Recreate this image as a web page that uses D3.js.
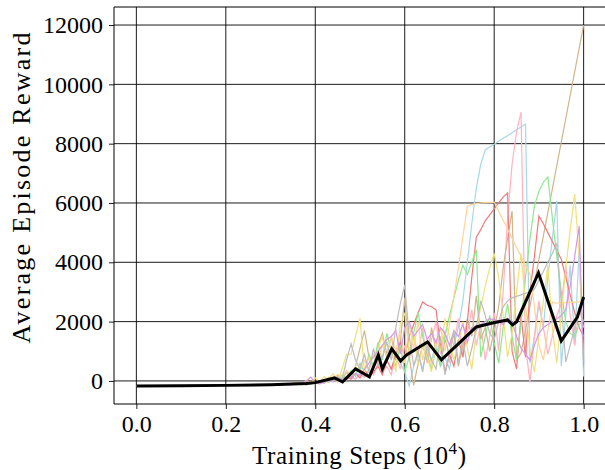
<!DOCTYPE html>
<html>
<head>
<meta charset="utf-8">
<script src="https://cdn.jsdelivr.net/npm/d3@7"></script>
<style>
    body { margin: 0; background: #fff; }
    svg { display: block; }
    text { font-family: "Liberation Serif", "DejaVu Serif", serif; fill: #000; }
</style>
</head>
<body>
<div id="chart"></div>
<script>
// Shared evaluation steps for the individual runs (in units of 10^4)
const steps = [0, 0.1, 0.2, 0.3,
    0.36, 0.37, 0.38, 0.39, 0.40, 0.41, 0.42, 0.43, 0.44, 0.45,
    0.46, 0.47, 0.48, 0.49, 0.50, 0.51, 0.52, 0.53, 0.54, 0.55,
    0.56, 0.57, 0.58, 0.59, 0.60, 0.61, 0.62, 0.63, 0.64, 0.65,
    0.66, 0.67, 0.68, 0.69, 0.70, 0.71, 0.72, 0.73, 0.74, 0.75,
    0.76, 0.77, 0.78, 0.79, 0.80, 0.81, 0.82, 0.83, 0.84, 0.85,
    0.86, 0.87, 0.88, 0.89, 0.90, 0.91, 0.92, 0.93, 0.94, 0.95,
    0.96, 0.97, 0.98, 0.99, 1.00];

// Individual runs (one value per step)
const runBlue = [-170, -160, -150, -130,
    -100, -80, -60, -50, -20, -30, 10, -10, 40, 20,
    -40, 60, 120, 80, 200, 150, 300, 250, 500, 350,
    700, 400, 900, 600, 300, -170, 500, 900, 400, 1100,
    700, 1300, 500, 800, 400, 1200, 1800, 2700, 4000, 5300,
    6500, 7300, 7790, 7890, 7980, 8080, 8180, 8270, 8370, 8470,
    8560, 8660, 600, 1500, 2600, 1800, 3500, 4800, 6070, 500,
    2200, 3900, 1200, 4500, 150];
const runPink = [-170, -165, -150, -135,
    -90, -120, -60, -100, -40, -80, 0, -50, 60, -20,
    100, 30, 150, 60, 250, 120, 400, 200, 600, 300,
    500, 200, 900, 400, 1200, 700, 1500, 900, 1800, 600,
    1400, 2000, 900, 1700, 600, 1300, 2100, 800, 1600, 2400,
    1200, 1900, 700, 1500, 2300, 1000, 3000, 5500, 7300, 8400,
    9060, 1200, -50, 1500, 2700, 1800, 900, 1500, 2200, 2600,
    3900, 2200, 1200, 2500, 1800];
const runTan = [-170, -160, -145, -130,
    -100, -60, -120, -40, -80, 0, -60, 100, -20, 200,
    50, 300, 100, 500, 1100, 1700, 800, 400, 1200, 1600,
    900, 1500, 700, 1300, 2800, 800, -150, 600, 1200, 700,
    1800, 1000, 500, 1400, 900, 1600, 500, 1200, 2100, 1500,
    2870, 1400, 1800, 1000, 1700, 2500, 3800, 4800, 5730, 700,
    940, 1730, 2520, 3310, 4100, 4890, 5680, 6470, 7260, 8050,
    8840, 9630, 10420, 11210, 12000];
const runRed = [-170, -160, -150, -140,
    -110, -80, -130, -60, -90, -20, -70, 50, 0, 80,
    -30, 150, 60, 250, 100, 400, 150, 300, 500, 200,
    700, 400, 900, 1300, 800, 1500, 1900, 2300, 2660, 2550,
    2500, 2400, 1200, 300, 900, 500, 1400, 800, 2000, 3500,
    4850, 5100, 5400, 5600, 5800, 6000, 6200, 6340, 1000, 400,
    2200, 800, 3000, 4200, 5560, 5300, 5000, 4700, 4400, 4100,
    3500, 2900, 2300, 1800, 1500];
const runGreen = [-170, -155, -150, -135,
    -100, -130, -70, -110, -50, -90, 20, -40, 100, 30,
    200, 80, 350, 150, 600, 300, 900, 500, 1300, 700,
    1600, 1000, 500, 1200, 300, 800, 1600, 2300, 1500, 900,
    400, 1100, 500, 1500, 2200, 2800, 3400, 3900, 3600, 4000,
    4420, 800, 1500, 2200, 1300, 600, 1800, 2600, 1500, 700,
    1900, 3500, 4800, 5900, 6400, 6700, 6880, 5500, 4200, 3000,
    2000, 1600, 1500, 1900, 2000];
const runPeach = [-170, -160, -150, -130,
    -90, -50, -110, -30, -80, 20, -40, 120, 40, 220,
    100, 350, 200, 500, 300, 700, 400, 900, 600, 1200,
    800, 1500, 1000, 1700, 600, 1900, 1100, 2000, 700, 1300,
    500, 1200, 1800, 1000, 1900, 2850, 3800, 4850, 5900, 5950,
    5980, 6000, 6010, 6020, 6030, 5730, 5420, 5120, 4810, 4500,
    4200, 3900, 3600, 2500, 1200, 700, 1700, 2660, 2620, 2620,
    2640, 2650, 2660, 2660, 2700];
const runYellow = [-170, -160, -150, -130,
    -60, -120, 20, -80, 100, -40, 150, 50, 250, -50,
    400, 900, 900, 1500, 2120, 300, 800, 400, 1100, 1500,
    700, 1200, 300, 1900, 2300, 1000, 1600, 500, 1200, 800,
    300, 1400, 1000, 2100, 1500, 700, 1300, 2000, 1100, 400,
    1700, 2500, 3200, 3800, 4300, 3500, 2200, 800, 1600, 3000,
    4300, 2600, 1000, 300, 1500, 2700, 3900, 1800, 600, 2200,
    3800, 5100, 6300, 4200, 700];
const runPurple = [-170, -165, -150, -140,
    -120, -90, 0, 130, -60, -100, -40, 20, -30, 80,
    30, 150, 100, 250, 200, 400, 600, 800, 1000, 1200,
    1400, 1500, 1700, 900, 1800, 2000, 1500, 1700, 1900, 1400,
    1600, 1300, 1800, 1600, 1200, 1700, 1500, 1900, 1300, 1800,
    1700, 1900, 2000, 2100, 2050, 2000, 1900, 2100, 2000, 1500,
    1100, 900, 700, 1200, 1600, 1800, 1900, 2000, 2100, 2200,
    2400, 3200, 4200, 5220, 600];
const runGray = [-170, -160, -150, -135,
    -100, -70, -130, -50, -90, 10, -60, 80, -10, 150,
    50, 700, 1250, 700, 400, 900, 300, 1100, 500, 800,
    1300, 700, 1800, 2600, 3240, 1500, 500, 1000, 300, 1200,
    700, 400, 1500, 200, 900, 1700, 600, 1400, 500, 1100,
    1800, 2700, 2200, 1600, 1400, 2000, 2500, 2700, 2800, 2850,
    2900, 2950, 3000, 3100, 3400, 3700, 4000, 4300, 4650, 2600,
    640, 1200, 1800, 2400, 2000];

const runs = [runBlue, runPink, runTan, runRed, runGreen, runPeach, runYellow, runPurple, runGray];
const runColors = ['#a6d8e8', '#ffb3c1', '#d2b48c', '#f07a7a', '#8ee88e', '#ffd39b', '#f0e07a', '#d697e6', '#bdbdbd'];

// Mean curve across runs
const meanSteps = [0, 0.1, 0.2, 0.3, 0.38, 0.40, 0.443, 0.461, 0.49, 0.521, 0.541, 0.55,
    0.571, 0.591, 0.604, 0.651, 0.682, 0.76, 0.796, 0.83, 0.841, 0.85, 0.899, 0.95, 0.986, 1.0];
const meanReward = [-170, -160, -150, -130, -90, -57, 100, -35, 405, 135, 875, 405,
    1080, 675, 875, 1315, 710, 1820, 1955, 2055, 1890, 1990, 3640, 1350, 2155, 2830];

const xTicks = [0.0, 0.2, 0.4, 0.6, 0.8, 1.0];
const yTicks = [0, 2000, 4000, 6000, 8000, 10000, 12000];

const width = 605, height = 470;
const margin = { left: 114, top: 7, bottom: 404, right: 606 };

const svg = d3.select('#chart').append('svg')
    .attr('width', width)
    .attr('height', height);

const x = d3.scaleLinear().domain([-0.05, 1.05]).range([margin.left, margin.right]);
const y = d3.scaleLinear().domain([-778, 12608]).range([margin.bottom, margin.top]);

// Grid lines
const grid = svg.append('g').attr('class', 'grid');
grid.selectAll('.gx').data(xTicks).enter().append('line')
    .attr('x1', d => x(d)).attr('x2', d => x(d))
    .attr('y1', margin.top).attr('y2', margin.bottom)
    .attr('stroke', '#000').attr('stroke-width', 0.9);
grid.selectAll('.gy').data(yTicks).enter().append('line')
    .attr('x1', margin.left).attr('x2', margin.right)
    .attr('y1', d => y(d)).attr('y2', d => y(d))
    .attr('stroke', '#000').attr('stroke-width', 0.9);

// Run lines
const runLine = d3.line().x((d, i) => x(steps[i])).y(d => y(d));
svg.append('g').selectAll('path').data(runs).enter().append('path')
    .attr('d', d => runLine(d))
    .attr('fill', 'none')
    .attr('stroke', (d, i) => runColors[i])
    .attr('stroke-width', 1.2);

// Mean line
const meanLine = d3.line().x((d, i) => x(meanSteps[i])).y(d => y(d));
svg.append('path')
    .attr('d', meanLine(meanReward))
    .attr('fill', 'none')
    .attr('stroke', '#000')
    .attr('stroke-width', 3)
    .attr('stroke-linejoin', 'miter');

// Axes
const xAxis = d3.axisBottom(x).tickValues(xTicks).tickFormat(d3.format('.1f')).tickSizeOuter(0).tickSize(5).tickPadding(6);
const yAxis = d3.axisLeft(y).tickValues(yTicks).tickFormat(d => d).tickSizeOuter(0).tickSize(5).tickPadding(6);

const gx = svg.append('g').attr('transform', `translate(0,${margin.bottom})`).call(xAxis);
const gy = svg.append('g').attr('transform', `translate(${margin.left},0)`).call(yAxis);
[gx, gy].forEach(g => {
    g.select('.domain').remove();
    g.selectAll('.tick line').attr('stroke', '#000').attr('stroke-width', 0.9);
    g.selectAll('.tick text').style('font-size', '24px').attr('font-family', '"Liberation Serif", serif');
});

// Spines
svg.append('line').attr('x1', margin.left).attr('x2', margin.left)
    .attr('y1', margin.top).attr('y2', margin.bottom).attr('stroke', '#000').attr('stroke-width', 1);
svg.append('line').attr('x1', margin.left).attr('x2', margin.right)
    .attr('y1', margin.bottom).attr('y2', margin.bottom).attr('stroke', '#000').attr('stroke-width', 1);
svg.append('line').attr('x1', margin.left).attr('x2', margin.right)
    .attr('y1', margin.top).attr('y2', margin.top).attr('stroke', '#000').attr('stroke-width', 1);

// Axis labels
const xl = svg.append('text')
    .attr('x', 359).attr('y', 464)
    .attr('text-anchor', 'middle')
    .attr('textLength', 214)
    .attr('lengthAdjust', 'spacing')
    .style('font-size', '25px');
xl.append('tspan').text('Training Steps (10');
xl.append('tspan').attr('dy', -10).style('font-size', '17px').text('4');
xl.append('tspan').attr('dy', 10).text(')');

svg.append('text')
    .attr('transform', 'translate(30,188) rotate(-90)')
    .attr('text-anchor', 'middle')
    .attr('textLength', 311)
    .attr('lengthAdjust', 'spacing')
    .style('font-size', '26px')
    .text('Average Episode Reward');
</script>
</body>
</html>
